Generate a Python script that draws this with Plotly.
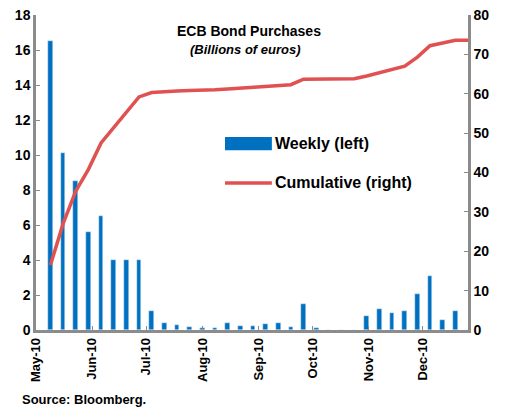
import plotly.graph_objects as go
from plotly.subplots import make_subplots

# weekly dates (week markers)
weeks = ["2010-05-09", "2010-05-16", "2010-05-23", "2010-05-30", "2010-06-06",
         "2010-06-13", "2010-06-20", "2010-06-27", "2010-07-04", "2010-07-11",
         "2010-07-18", "2010-07-25", "2010-08-01", "2010-08-08", "2010-08-15",
         "2010-08-22", "2010-08-29", "2010-09-05", "2010-09-12", "2010-09-19",
         "2010-09-26", "2010-10-03", "2010-10-10", "2010-10-17", "2010-10-24",
         "2010-10-31", "2010-11-07", "2010-11-14", "2010-11-21", "2010-11-28",
         "2010-12-05", "2010-12-12", "2010-12-19", "2010-12-26"]

weekly = [16.5, 10.1, 8.5, 5.6, 6.5, 4.0, 4.0, 4.0, 1.1, 0.4,
          0.3, 0.2, 0.13, 0.13, 0.4, 0.23, 0.23, 0.34, 0.42, 0.19,
          1.5, 0.1, 0, 0, 0, 0.8, 1.2, 1.0, 1.1, 2.06,
          3.1, 0.6, 1.1, 0]

cumulative = [16.5, 27.0, 35.3, 40.8, 47.5, 51.5, 55.2, 59.2, 60.3, 60.6,
              60.7, 60.8, 60.8, 61.0, 61.2, 61.4, 61.7, 61.9, 62.0, 62.3,
              63.7, 63.7, 63.7, 63.7, 63.8, 64.5, 65.4, 66.2, 67.0, 69.3,
              72.2, 72.9, 73.6, 73.6]

blue = "#0070C0"
red = "#E05252"
grey = "#8C8C8C"
font = "Liberation Sans"

fig = make_subplots(specs=[[{"secondary_y": True}]])

fig.add_trace(go.Bar(x=weeks, y=weekly, name="Weekly (left)", marker_color=blue,
                     width=2.6 * 86400000), secondary_y=False)
fig.add_trace(go.Scatter(x=weeks, y=cumulative, name="Cumulative (right)", mode="lines",
                         line=dict(color=red, width=3.5)), secondary_y=True)

tickfont = dict(family=font, size=14, color="black", weight="bold")

fig.update_xaxes(domain=[0, 1], range=["2010-05-01", "2010-12-26"], tickformat="%b-%y",
                 dtick="M1", tick0="2010-05-01", tickangle=-90, showline=True,
                 linecolor=grey, linewidth=2.5, ticks="inside", tickcolor=grey, ticklen=4,
                 showgrid=False, zeroline=False, automargin=False,
                 tickfont=dict(family=font, size=13, color="black", weight="bold"))
fig.update_yaxes(range=[0, 18], dtick=2, showline=True, linecolor=grey, linewidth=2.5,
                 ticks="inside", tickcolor=grey, ticklen=4, showgrid=False,
                 zeroline=False, automargin=False, tickfont=tickfont, secondary_y=False)
fig.update_yaxes(range=[0, 80], dtick=10, showline=True, linecolor=grey, linewidth=2.5,
                 ticks="inside", tickcolor=grey, ticklen=4, showgrid=False,
                 zeroline=False, automargin=False, tickfont=tickfont, secondary_y=True)

# hand-drawn legend
fig.add_shape(type="rect", xref="paper", yref="paper", x0=0.4375, x1=0.546,
              y0=0.571, y1=0.613, fillcolor=blue, line_width=0)
fig.add_shape(type="line", xref="paper", yref="paper", x0=0.4375, x1=0.546,
              y0=0.467, y1=0.467, line=dict(color=red, width=3.5))

ann_font = dict(family=font, size=16, color="black", weight="bold")
fig.add_annotation(text="Weekly (left)", xref="paper", yref="paper", x=0.549, y=0.592,
                   xanchor="left", yanchor="middle", showarrow=False, font=ann_font)
fig.add_annotation(text="Cumulative (right)", xref="paper", yref="paper", x=0.549, y=0.467,
                   xanchor="left", yanchor="middle", showarrow=False, font=ann_font)
fig.add_annotation(text="ECB Bond Purchases", xref="paper", yref="paper", x=0.493, y=0.948,
                   xanchor="center", yanchor="middle", showarrow=False,
                   font=dict(family=font, size=14, color="black", weight="bold"))
fig.add_annotation(text="<i>(Billions of euros)</i>", xref="paper", yref="paper", x=0.486,
                   y=0.892, xanchor="center", yanchor="middle", showarrow=False,
                   font=dict(family=font, size=13, color="black", weight="bold"))
fig.add_annotation(text="Source: Bloomberg.", xref="paper", yref="paper", x=-0.037, y=-0.222,
                   xanchor="left", yanchor="middle", showarrow=False,
                   font=dict(family=font, size=13, color="black", weight="bold"))

fig.update_layout(width=507, height=410, showlegend=False, bargap=0,
                  margin=dict(l=36, r=39, t=15, b=80, autoexpand=False),
                  plot_bgcolor="white", paper_bgcolor="white")

fig.write_html("out.html", config={"displayModeBar": False},
               post_script="document.body.style.margin = '0';")
